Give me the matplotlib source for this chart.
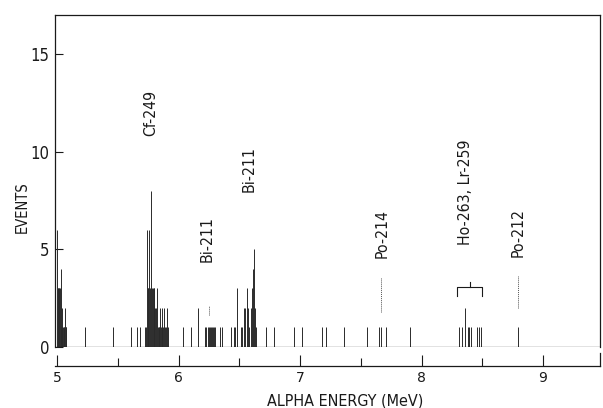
import matplotlib
matplotlib.use("Agg")
import matplotlib.pyplot as plt
from matplotlib import font_manager
from matplotlib.font_manager import FontProperties
from matplotlib.lines import Line2D

# ---------------- data ----------------
energies = [
    5.000, 5.005, 5.010, 5.015, 5.020, 5.025, 5.030, 5.035, 5.040, 5.045,
    5.050, 5.055, 5.060, 5.066, 5.072, 5.078,
    5.230, 5.458, 5.607, 5.661, 5.687,
    5.724, 5.731, 5.738, 5.746, 5.752, 5.757, 5.764, 5.771, 5.779, 5.787,
    5.795, 5.802, 5.809, 5.815, 5.821, 5.829, 5.836, 5.843, 5.848, 5.856,
    5.862, 5.867, 5.875, 5.883, 5.890, 5.896, 5.903, 5.910,
    6.033, 6.103, 6.158,
    6.218, 6.230, 6.243, 6.251, 6.259, 6.267, 6.275, 6.284, 6.292, 6.300,
    6.342, 6.358, 6.432, 6.453, 6.465, 6.479, 6.512, 6.525, 6.542, 6.551,
    6.560, 6.570, 6.580, 6.594, 6.602, 6.610, 6.619, 6.630, 6.638,
    6.716, 6.783, 6.953, 7.019, 7.178, 7.214, 7.363, 7.549, 7.646, 7.667,
    7.705, 7.902,
    8.311, 8.336, 8.358, 8.380, 8.393, 8.407, 8.459, 8.473, 8.487, 8.792,
]
events = [
    6, 3, 3, 3, 3, 3, 4, 1, 2, 1,
    1, 1, 1, 2, 1, 1,
    1, 1, 1, 1, 1,
    1, 1, 6, 3, 3, 6, 3, 8, 3, 3,
    3, 3, 2, 2, 3, 1, 1, 1, 2, 1,
    1, 2, 1, 2, 1, 1, 2, 1,
    1, 1, 2,
    1, 1, 1, 1, 1, 1, 1, 1, 1, 1,
    1, 1, 1, 1, 1, 3, 1, 1, 2, 2,
    3, 2, 1, 2, 3, 4, 5, 2, 1,
    1, 1, 1, 1, 1, 1, 1, 1, 1, 1,
    1, 1,
    1, 1, 2, 1, 1, 1, 1, 1, 1, 1,
]

# peak labels: text, energy, bottom of text (events)
label_texts = ["Cf-249", "Bi-211", "Bi-211", "Po-214", "Ho-263, Lr-259", "Po-212"]
label_energy = [5.774, 6.239, 6.580, 7.672, 8.366, 8.794]
label_bottom = [10.82, 4.35, 7.92, 4.54, 5.20, 4.60]

# dotted marker segments: energy, from, to (events)
marker_energy = [6.251, 7.667, 8.792]
marker_lo = [1.65, 1.80, 2.00]
marker_hi = [2.10, 3.60, 3.65]

# bracket for Ho-263 / Lr-259
bracket_left, bracket_right, bracket_level = 8.295, 8.495, 3.05

xticks = [5, 6, 7, 8, 9]
xminor = [5.5, 6.5, 7.5, 8.5]
yticks = [0, 5, 10, 15]

# ---------------- font: prefer a condensed face ----------------
cond_path = None
ranked = []
for f in font_manager.fontManager.ttflist:
    st = str(f.stretch).lower()
    nm = f.name.lower()
    is_cond = ("condensed" in st) or ("narrow" in st) or ("condensed" in nm) or ("narrow" in nm) \
        or ("condensed" in f.fname.lower()) or ("narrow" in f.fname.lower())
    if is_cond and str(f.style) == "normal":
        w = f.weight if isinstance(f.weight, int) else 400
        score = (0 if "dejavu" in nm else 1, abs(w - 400))
        ranked.append((score, f.fname))
if ranked:
    ranked.sort()
    cond_path = ranked[0][1]


def fp(size):
    if cond_path:
        return FontProperties(fname=cond_path, size=size)
    return FontProperties(family="DejaVu Sans", size=size * 0.9)


ink = "#1a1a1a"

fig = plt.figure(figsize=(6.03, 4.08), dpi=100)
ax = fig.add_axes([55 / 603, 1 - 347 / 408, 545 / 603, 332 / 408])

ax.vlines(energies, 0, events, color="#2a2a2a", lw=0.7)
ax.axhline(0, color=ink, lw=0.9)

for e, lo, hi in zip(marker_energy, marker_lo, marker_hi):
    ax.vlines(e, lo, hi, color="#555555", lw=0.7, linestyles=(0, (1, 1)))

mid = (bracket_left + bracket_right) / 2
ax.plot([bracket_left, bracket_left, bracket_right, bracket_right],
        [bracket_level - 0.45, bracket_level, bracket_level, bracket_level - 0.45],
        color=ink, lw=0.8)
ax.plot([mid, mid], [bracket_level, bracket_level + 0.3], color=ink, lw=0.8)

for t, e, b in zip(label_texts, label_energy, label_bottom):
    ax.text(e, b, t, rotation=90, ha="center", va="bottom", fontproperties=fp(11.3), color=ink)

ax.set_xlim(4.9835, 9.469)
ax.set_ylim(0, 17)
ax.set_xticks(xticks)
ax.set_xticks(xminor, minor=True)
ax.set_yticks(yticks)
ax.set_xticklabels([str(v) for v in xticks], color=ink)
ax.set_yticklabels([str(v) for v in yticks], color=ink)
for lab in ax.get_xticklabels() + ax.get_yticklabels():
    lab.set_fontproperties(fp(12))

ax.spines["bottom"].set_position(("outward", 13.7))
for s in ax.spines.values():
    s.set_linewidth(0.9)
    s.set_color(ink)

ax.tick_params(axis="x", which="major", direction="in", length=8, width=0.8, pad=3.5, colors=ink)
ax.tick_params(axis="x", which="minor", direction="in", length=6, width=0.8, colors=ink)
ax.tick_params(axis="y", which="major", direction="in", length=6, width=0.8, pad=4, colors=ink)

# small end cap at right end of the energy axis
fig.add_artist(Line2D([600 / 603, 600 / 603], [1 - 366 / 408, 1 - 353 / 408],
                      color=ink, lw=0.9, transform=fig.transFigure))

fig.text(22 / 603, 1 - 207 / 408, "EVENTS", rotation=90, ha="center", va="center",
         fontproperties=fp(10.5), color=ink)
fig.text(345 / 603, 1 - 401 / 408, "ALPHA ENERGY (MeV)", ha="center", va="center",
         fontproperties=fp(11.5), color=ink)

fig.savefig("out.png", dpi=100)
